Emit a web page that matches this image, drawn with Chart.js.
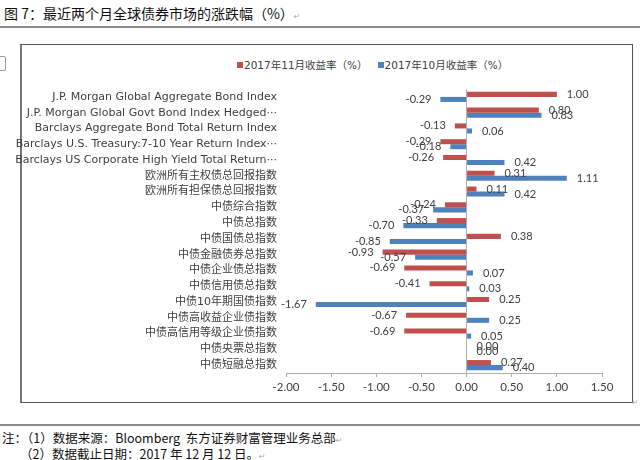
<!DOCTYPE html>
<html>
<head>
<meta charset="utf-8">
<script src="https://cdn.jsdelivr.net/npm/chart.js@4.4.1/dist/chart.umd.min.js"></script>
<style>
  body { margin: 0; width: 640px; height: 460px; background: #fff; position: relative; overflow: hidden;
         font-family: "Noto Sans CJK SC", sans-serif; color: #000; }
  .abs { position: absolute; white-space: nowrap; }
  .ret { color: #aaa; font-size: 8px; font-family: "DejaVu Sans"; }
  #title { left: 4px; top: 3px; font-size: 14px; font-weight: 400; color: #111; }
  #rule1 { left: 0; top: 26px; width: 640px; height: 2px; background: #8c8c8c; }
  #rule2 { left: 0; top: 424px; width: 640px; height: 2px; background: #8c8c8c; }
  #box { left: 20px; top: 44px; width: 610px; height: 357px; border: 1px solid #555; border-left: 2px solid #777; }
  #nub { left: -3px; top: 56px; width: 7px; height: 13px; border: 1px solid #999; border-radius: 2px; }
  #legend { left: 237px; top: 57px; font-size: 10.5px; color: #404040; font-family: "DejaVu Sans", "Noto Sans CJK SC"; }
  #legend i { display: inline-block; width: 6px; height: 6px; margin-right: 1px; vertical-align: 1px; }
  .note { font-size: 12.5px; left: 2px; color: #111; }
  canvas { position: absolute; left: 0; top: 0; }
</style>
</head>
<body>
<div class="abs" id="title">图 7：最近两个月全球债券市场的涨跌幅（%）<span class="ret">↵</span></div>
<div class="abs" id="rule1"></div>
<div class="abs" id="nub"></div>
<div class="abs" id="box"></div>
<div class="abs ret" style="left:632px;top:398px;">↵</div>
<div class="abs" id="legend"><i style="background:#c0504d"></i>2017年11月收益率（%）&nbsp;&nbsp;&nbsp;<i style="background:#4f81bd"></i>2017年10月收益率（%）</div>
<div class="abs" id="rule2"></div>
<div class="abs note" style="top:428px;">注：（1）数据来源：Bloomberg&nbsp;&nbsp;东方证券财富管理业务总部<span class="ret">↵</span></div>
<div class="abs note" style="top:444px;left:20px;">（2）数据截止日期：2017 年 12 月 12 日。<span class="ret">↵</span></div>
<canvas id="barChart" width="640" height="460"></canvas>
<script>
// categories, top to bottom
const categories = [
  'J.P. Morgan Global Aggregate Bond Index',
  'J.P. Morgan Global Govt Bond Index Hedged···',
  'Barclays Aggregate Bond Total Return Index',
  'Barclays U.S. Treasury:7-10 Year Return Index···',
  'Barclays US Corporate High Yield Total Return···',
  '欧洲所有主权债总回报指数',
  '欧洲所有担保债总回报指数',
  '中债综合指数',
  '中债总指数',
  '中债国债总指数',
  '中债金融债券总指数',
  '中债企业债总指数',
  '中债信用债总指数',
  '中债10年期国债指数',
  '中债高收益企业债指数',
  '中债高信用等级企业债指数',
  '中债央票总指数',
  '中债短融总指数'
];
const novReturns = [1.00, 0.80, -0.13, -0.29, -0.26, 0.31, 0.11, -0.24, -0.33, 0.38, -0.93, -0.69, -0.41, 0.25, -0.67, -0.69, 0.00, 0.27];
const octReturns = [-0.29, 0.83, 0.06, -0.18, 0.42, 1.11, 0.42, -0.37, -0.70, -0.85, -0.57, 0.07, 0.03, -1.67, 0.25, 0.05, 0.00, 0.40];
const xMin = -2, xMax = 1.5, xStep = 0.5;

const labelFont = 'Lato, "Noto Sans CJK SC"';
const catFont = '"DejaVu Sans", "Noto Sans CJK SC"';

// value labels at the end of each bar
const valueLabels = {
  id: 'valueLabels',
  afterDatasetsDraw(chart) {
    const ctx = chart.ctx;
    ctx.save();
    ctx.font = '11px ' + labelFont;
    ctx.fillStyle = '#404040';
    ctx.textBaseline = 'middle';
    chart.data.datasets.forEach((ds, i) => {
      chart.getDatasetMeta(i).data.forEach((bar, j) => {
        const v = ds.data[j];
        if (v < 0) {
          ctx.textAlign = 'right';
          ctx.fillText(v.toFixed(2), bar.x - 9, bar.y);
        } else {
          ctx.textAlign = 'left';
          ctx.fillText(v.toFixed(2), bar.x + 10, bar.y);
        }
      });
    });
    ctx.restore();
  }
};

const barChartCtx = document.getElementById('barChart').getContext('2d');
const barChart = new Chart(barChartCtx, {
  type: 'bar',
  data: {
    labels: categories,
    datasets: [
      { label: '2017年11月收益率（%）', data: novReturns, backgroundColor: '#c0504d' },
      { label: '2017年10月收益率（%）', data: octReturns, backgroundColor: '#4f81bd' }
    ]
  },
  options: {
    indexAxis: 'y',
    responsive: false,
    animation: false,
    categoryPercentage: 0.64,
    barPercentage: 1,
    layout: { padding: { left: 0, right: 38, top: 89, bottom: 67 } },
    plugins: {
      legend: { display: false },
      tooltip: { enabled: false }
    },
    scales: {
      x: {
        min: xMin,
        max: xMax,
        afterFit: (s) => { s.height = 20; },
        ticks: {
          stepSize: xStep,
          padding: 3,
          color: '#404040',
          font: { family: labelFont, size: 11.5 },
          callback: (v) => Number(v).toFixed(2)
        },
        grid: {
          color: (c) => (c.tick && c.tick.value === 0 ? '#b0b0b0' : 'rgba(0,0,0,0)'),
          tickColor: '#b0b0b0',
          tickLength: 4
        },
        border: { color: '#b0b0b0' }
      },
      y: {
        afterFit: (s) => { s.width = 286; },
        ticks: {
          autoSkip: false,
          padding: 9,
          color: '#404040',
          font: { family: catFont, size: 11 }
        },
        grid: { display: false, drawTicks: false },
        border: { display: false }
      }
    }
  },
  plugins: [valueLabels]
});
</script>
</body>
</html>
